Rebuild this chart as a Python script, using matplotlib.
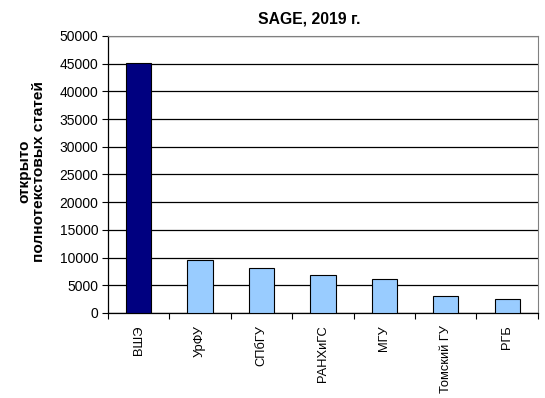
import numpy as np
import matplotlib.pyplot as plt

plt.rcParams['font.family'] = ['Liberation Sans', 'DejaVu Sans']

# данные
orgs = ['ВШЭ', 'УрФУ', 'СПбГУ', 'РАНХиГС', 'МГУ', 'Томский ГУ', 'РГБ']
articles = [45200, 9500, 8200, 6800, 6100, 3000, 2500]
yticks = np.arange(0, 50001, 5000)

fig = plt.figure(figsize=(5.45, 3.98), dpi=100)
ax = fig.add_axes([0.198, 0.2136, 0.789, 0.696])

x = np.arange(len(orgs))
colors = ['#000080'] + ['#99ccff'] * (len(orgs) - 1)
ax.bar(x, articles, width=0.41, color=colors, edgecolor='black', linewidth=0.8, zorder=3)

ax.set_xlim(-0.5, len(orgs) - 0.5)
ax.set_ylim(0, 50000)
ax.set_yticks(yticks)
ax.set_yticklabels([str(v) for v in yticks], fontsize=10)
ax.yaxis.grid(True, color='black', linewidth=0.9, zorder=0)

# подписи категорий между делениями
ax.set_xticks(x)
ax.set_xticklabels(orgs, rotation=90, fontsize=9.3)
ax.tick_params(axis='x', length=0, pad=9)
ax.set_xticks(np.arange(-0.5, len(orgs)), minor=True)
ax.tick_params(axis='x', which='minor', length=4, width=0.8, direction='out')
ax.tick_params(axis='y', length=4, width=0.8, direction='out', pad=3)

for side in ['top', 'right']:
    ax.spines[side].set_color('#808080')
for side in ['left', 'bottom']:
    ax.spines[side].set_color('black')
ax.spines['left'].set_linewidth(0.9)
ax.spines['bottom'].set_linewidth(0.9)

ax.set_ylabel('открыто\nполнотекстовых статей', fontsize=11.1, fontweight='bold',
              linespacing=1.1)
ax.yaxis.set_label_coords(-0.143, 0.51)
fig.text(309 / 545, 1 - 19 / 398, 'SAGE, 2019 г.', fontsize=11.3, fontweight='bold',
         ha='center', va='center')

fig.savefig('out.png', dpi=100)
